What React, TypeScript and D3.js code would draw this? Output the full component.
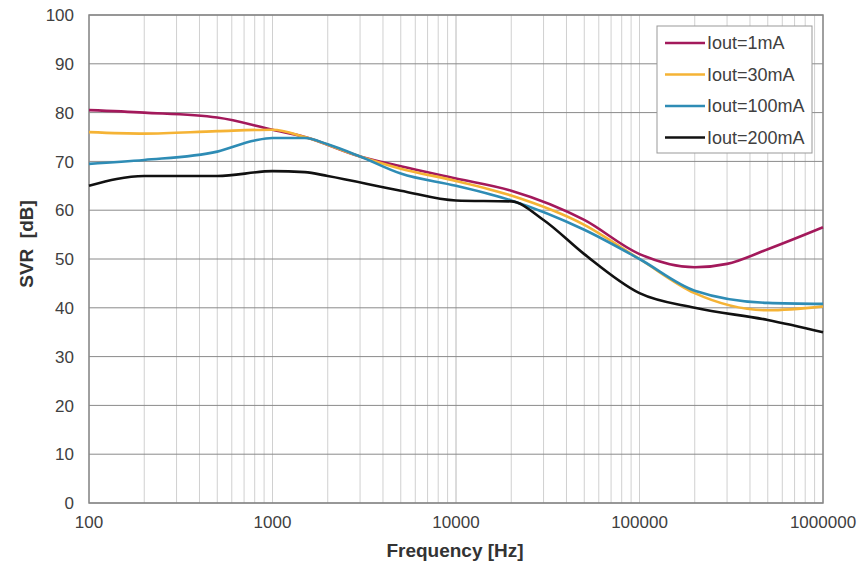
import * as d3 from 'd3'

const width = 858
const height = 567
const margin = { top: 15, right: 35, bottom: 64, left: 89 }

const freqs1 = [100, 200, 500, 1000, 1500, 3000, 5000, 10000, 20000, 50000, 100000, 200000, 300000, 500000, 1000000]
const iout1mA = [80.5, 80, 79, 76.5, 75, 71, 69, 66.5, 64, 58, 51, 48.3, 49, 52, 56.5]

const freqs30 = [100, 200, 500, 1000, 1500, 3000, 5000, 10000, 20000, 50000, 100000, 200000, 500000, 1000000]
const iout30mA = [76, 75.7, 76.2, 76.5, 75, 71, 68.5, 66, 63, 57, 50, 43, 39.5, 40.3]

const freqs100 = [100, 200, 500, 800, 1000, 1500, 2000, 3000, 5000, 10000, 20000, 50000, 100000, 200000, 500000, 1000000]
const iout100mA = [69.5, 70.3, 72, 74.3, 74.8, 74.8, 73.5, 71, 67.5, 65, 62, 56, 50, 43.5, 41, 40.8]

const freqs200 = [100, 200, 500, 1000, 1500, 2000, 5000, 10000, 20000, 30000, 50000, 100000, 200000, 500000, 1000000]
const iout200mA = [65, 67, 67, 68, 67.8, 67, 64, 62, 61.8, 58, 51, 43, 40, 37.5, 35]

const seriesNames = ['Iout=1mA', 'Iout=30mA', 'Iout=100mA', 'Iout=200mA']
const seriesColors = ['#a3195b', '#f5b335', '#2e8cb5', '#111111']

const yTicks = [0, 10, 20, 30, 40, 50, 60, 70, 80, 90, 100]
const xTicks = [100, 1000, 10000, 100000, 1000000]

const font = "'Liberation Sans', Arial, sans-serif"

function App() {
  const innerWidth = width - margin.left - margin.right
  const innerHeight = height - margin.top - margin.bottom

  const xScale = d3.scaleLog().domain([100, 1000000]).range([0, innerWidth])
  const yScale = d3.scaleLinear().domain([0, 100]).range([innerHeight, 0])

  const series = [
    { x: freqs1, y: iout1mA },
    { x: freqs30, y: iout30mA },
    { x: freqs100, y: iout100mA },
    { x: freqs200, y: iout200mA },
  ]

  const line = d3
    .line<[number, number]>()
    .x((d) => xScale(d[0]))
    .y((d) => yScale(d[1]))
    .curve(d3.curveMonotoneX)

  const minorTicks: number[] = []
  for (let dec = 100; dec < 1000000; dec *= 10) {
    for (let m = 1; m <= 10; m++) minorTicks.push(dec * m)
  }

  return (
    <svg width={width} height={height} style={{ position: 'absolute', left: 0, top: 0, background: '#fff' }}>
      <g transform={`translate(${margin.left},${margin.top})`}>
        {minorTicks.map((t) => (
          <line key={'v' + t} x1={xScale(t)} x2={xScale(t)} y1={0} y2={innerHeight} stroke="#d0d0d0" strokeWidth={1} />
        ))}
        {yTicks.map((t) => (
          <g key={'h' + t} transform={`translate(0,${yScale(t)})`}>
            <line x2={innerWidth} stroke="#8a8a8a" strokeWidth={1} />
            <text x={-15} dy="0.36em" textAnchor="end" fontFamily={font} fontSize={17} fill="#404040">
              {t}
            </text>
          </g>
        ))}
        <rect width={innerWidth} height={innerHeight} fill="none" stroke="#888" strokeWidth={1.5} />
        {xTicks.map((t) => (
          <text key={'x' + t} x={xScale(t)} y={innerHeight + 25} textAnchor="middle" fontFamily={font} fontSize={17} fill="#404040">
            {t}
          </text>
        ))}
        {series.map((s, i) => (
          <path
            key={seriesNames[i]}
            d={line(s.x.map((f, j) => [f, s.y[j]] as [number, number])) || ''}
            fill="none"
            stroke={seriesColors[i]}
            strokeWidth={2.6}
          />
        ))}
        <text x={366} y={innerHeight + 54} textAnchor="middle" fontFamily={font} fontSize={19} fontWeight="bold" fill="#333">
          Frequency [Hz]
        </text>
        <text
          transform={`translate(${-56},${229}) rotate(-90)`}
          textAnchor="middle"
          fontFamily={font}
          fontSize={19}
          fontWeight="bold"
          fill="#333"
          style={{ whiteSpace: 'pre' }}
        >
          {'SVR  [dB]'}
        </text>
      </g>
      <g transform="translate(657,26)">
        <rect width={155} height={127} fill="#fff" stroke="#999" strokeWidth={1} />
        {seriesNames.map((name, i) => (
          <g key={name} transform={`translate(0,${17 + i * 31.5})`}>
            <line x1={8} x2={48} stroke={seriesColors[i]} strokeWidth={2.6} />
            <text x={50} dy="0.36em" fontFamily={font} fontSize={18} fill="#404040">
              {name}
            </text>
          </g>
        ))}
      </g>
    </svg>
  )
}

export default App
